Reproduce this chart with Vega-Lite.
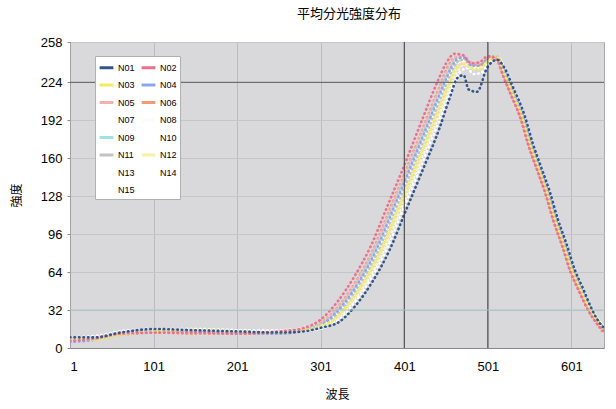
{
"$schema": "https://vega.github.io/schema/vega-lite/v6.json",
"width": 534, "height": 306,
"autosize": {"type": "none"},
"padding": {"left": 70, "top": 42, "right": 12, "bottom": 61},
"background": "white",
"title": {"text": "平均分光強度分布", "font": "Noto Sans CJK JP", "fontSize": 13, "fontWeight": "normal", "color": "#000000", "offset": 15, "anchor": "middle", "dx": 12},
"config": {"view": {"fill": "#d9d9dc", "stroke": "#a8a8a8"}},
"datasets": {
"curves": [
{"s":"N07","x":1,"y":9},{"s":"N07","x":31,"y":10},{"s":"N07","x":61,"y":14},{"s":"N07","x":101,"y":16},{"s":"N07","x":151,"y":16},{"s":"N07","x":201,"y":15},{"s":"N07","x":251,"y":15},{"s":"N07","x":281,"y":17},{"s":"N07","x":309,"y":22},{"s":"N07","x":329,"y":36},{"s":"N07","x":349,"y":56},{"s":"N07","x":369,"y":82},{"s":"N07","x":389,"y":116},{"s":"N07","x":409,"y":150},{"s":"N07","x":429,"y":185},{"s":"N07","x":449,"y":220},{"s":"N07","x":459,"y":236},{"s":"N07","x":467,"y":244},{"s":"N07","x":475,"y":244},{"s":"N07","x":483,"y":239},{"s":"N07","x":493,"y":239},{"s":"N07","x":503,"y":244},{"s":"N07","x":513,"y":244},{"s":"N07","x":522,"y":230},{"s":"N07","x":532,"y":213},{"s":"N07","x":542,"y":196},{"s":"N07","x":552,"y":172},{"s":"N07","x":562,"y":152},{"s":"N07","x":572,"y":132},{"s":"N07","x":582,"y":108},{"s":"N07","x":592,"y":88},{"s":"N07","x":602,"y":66},{"s":"N07","x":612,"y":50},{"s":"N07","x":622,"y":35},{"s":"N07","x":632,"y":23},{"s":"N07","x":640,"y":16},
{"s":"N08","x":1,"y":6},{"s":"N08","x":31,"y":8},{"s":"N08","x":61,"y":12},{"s":"N08","x":101,"y":15},{"s":"N08","x":151,"y":15},{"s":"N08","x":201,"y":14},{"s":"N08","x":251,"y":14},{"s":"N08","x":281,"y":15},{"s":"N08","x":311,"y":22},{"s":"N08","x":331,"y":36},{"s":"N08","x":351,"y":56},{"s":"N08","x":371,"y":82},{"s":"N08","x":391,"y":116},{"s":"N08","x":411,"y":150},{"s":"N08","x":431,"y":185},{"s":"N08","x":451,"y":220},{"s":"N08","x":461,"y":235},{"s":"N08","x":469,"y":242},{"s":"N08","x":477,"y":242},{"s":"N08","x":485,"y":237},{"s":"N08","x":495,"y":238},{"s":"N08","x":505,"y":244},{"s":"N08","x":513,"y":244},{"s":"N08","x":523,"y":230},{"s":"N08","x":533,"y":213},{"s":"N08","x":543,"y":196},{"s":"N08","x":553,"y":172},{"s":"N08","x":563,"y":152},{"s":"N08","x":573,"y":132},{"s":"N08","x":583,"y":108},{"s":"N08","x":593,"y":88},{"s":"N08","x":603,"y":66},{"s":"N08","x":613,"y":50},{"s":"N08","x":623,"y":35},{"s":"N08","x":633,"y":23},{"s":"N08","x":640,"y":17},
{"s":"N10","x":1,"y":8},{"s":"N10","x":31,"y":9},{"s":"N10","x":61,"y":12},{"s":"N10","x":101,"y":15},{"s":"N10","x":151,"y":16},{"s":"N10","x":201,"y":15},{"s":"N10","x":251,"y":14},{"s":"N10","x":281,"y":15},{"s":"N10","x":316,"y":22},{"s":"N10","x":336,"y":36},{"s":"N10","x":356,"y":56},{"s":"N10","x":376,"y":82},{"s":"N10","x":396,"y":116},{"s":"N10","x":416,"y":150},{"s":"N10","x":436,"y":185},{"s":"N10","x":456,"y":220},{"s":"N10","x":465,"y":234},{"s":"N10","x":473,"y":239},{"s":"N10","x":481,"y":236},{"s":"N10","x":491,"y":236},{"s":"N10","x":503,"y":243},{"s":"N10","x":513,"y":245},{"s":"N10","x":524,"y":230},{"s":"N10","x":534,"y":213},{"s":"N10","x":544,"y":196},{"s":"N10","x":554,"y":172},{"s":"N10","x":564,"y":152},{"s":"N10","x":574,"y":132},{"s":"N10","x":584,"y":108},{"s":"N10","x":594,"y":88},{"s":"N10","x":604,"y":66},{"s":"N10","x":614,"y":50},{"s":"N10","x":624,"y":35},{"s":"N10","x":634,"y":23},{"s":"N10","x":640,"y":18},
{"s":"N13","x":1,"y":7},{"s":"N13","x":31,"y":9},{"s":"N13","x":61,"y":12},{"s":"N13","x":101,"y":14},{"s":"N13","x":151,"y":15},{"s":"N13","x":201,"y":14},{"s":"N13","x":251,"y":14},{"s":"N13","x":281,"y":16},{"s":"N13","x":305,"y":22},{"s":"N13","x":325,"y":36},{"s":"N13","x":345,"y":56},{"s":"N13","x":365,"y":82},{"s":"N13","x":385,"y":116},{"s":"N13","x":405,"y":150},{"s":"N13","x":425,"y":185},{"s":"N13","x":445,"y":220},{"s":"N13","x":455,"y":236},{"s":"N13","x":464,"y":246},{"s":"N13","x":472,"y":246},{"s":"N13","x":481,"y":240},{"s":"N13","x":491,"y":240},{"s":"N13","x":501,"y":245},{"s":"N13","x":511,"y":245},{"s":"N13","x":521,"y":230},{"s":"N13","x":531,"y":213},{"s":"N13","x":541,"y":196},{"s":"N13","x":551,"y":172},{"s":"N13","x":561,"y":152},{"s":"N13","x":571,"y":132},{"s":"N13","x":581,"y":108},{"s":"N13","x":591,"y":88},{"s":"N13","x":601,"y":66},{"s":"N13","x":611,"y":50},{"s":"N13","x":621,"y":35},{"s":"N13","x":631,"y":23},{"s":"N13","x":640,"y":15},
{"s":"N14","x":1,"y":8},{"s":"N14","x":31,"y":10},{"s":"N14","x":61,"y":14},{"s":"N14","x":101,"y":16},{"s":"N14","x":151,"y":15},{"s":"N14","x":201,"y":15},{"s":"N14","x":251,"y":14},{"s":"N14","x":281,"y":14},{"s":"N14","x":319,"y":22},{"s":"N14","x":339,"y":36},{"s":"N14","x":359,"y":56},{"s":"N14","x":379,"y":82},{"s":"N14","x":399,"y":116},{"s":"N14","x":419,"y":150},{"s":"N14","x":439,"y":185},{"s":"N14","x":459,"y":220},{"s":"N14","x":468,"y":233},{"s":"N14","x":476,"y":236},{"s":"N14","x":484,"y":231},{"s":"N14","x":493,"y":232},{"s":"N14","x":504,"y":242},{"s":"N14","x":514,"y":244},{"s":"N14","x":524,"y":230},{"s":"N14","x":534,"y":213},{"s":"N14","x":544,"y":196},{"s":"N14","x":554,"y":172},{"s":"N14","x":564,"y":152},{"s":"N14","x":574,"y":132},{"s":"N14","x":584,"y":108},{"s":"N14","x":594,"y":88},{"s":"N14","x":604,"y":66},{"s":"N14","x":614,"y":50},{"s":"N14","x":624,"y":35},{"s":"N14","x":634,"y":23},{"s":"N14","x":640,"y":18},
{"s":"N15","x":1,"y":6},{"s":"N15","x":31,"y":8},{"s":"N15","x":61,"y":11},{"s":"N15","x":101,"y":14},{"s":"N15","x":151,"y":14},{"s":"N15","x":201,"y":13},{"s":"N15","x":251,"y":13},{"s":"N15","x":281,"y":15},{"s":"N15","x":312,"y":22},{"s":"N15","x":332,"y":36},{"s":"N15","x":352,"y":56},{"s":"N15","x":372,"y":82},{"s":"N15","x":392,"y":116},{"s":"N15","x":412,"y":150},{"s":"N15","x":432,"y":185},{"s":"N15","x":452,"y":220},{"s":"N15","x":462,"y":235},{"s":"N15","x":470,"y":241},{"s":"N15","x":478,"y":240},{"s":"N15","x":487,"y":237},{"s":"N15","x":497,"y":239},{"s":"N15","x":506,"y":244},{"s":"N15","x":514,"y":244},{"s":"N15","x":522,"y":230},{"s":"N15","x":532,"y":213},{"s":"N15","x":542,"y":196},{"s":"N15","x":552,"y":172},{"s":"N15","x":562,"y":152},{"s":"N15","x":572,"y":132},{"s":"N15","x":582,"y":108},{"s":"N15","x":592,"y":88},{"s":"N15","x":602,"y":66},{"s":"N15","x":612,"y":50},{"s":"N15","x":622,"y":35},{"s":"N15","x":632,"y":23},{"s":"N15","x":640,"y":16},
{"s":"N11","x":1,"y":6},{"s":"N11","x":31,"y":7},{"s":"N11","x":61,"y":11},{"s":"N11","x":101,"y":13},{"s":"N11","x":151,"y":14},{"s":"N11","x":201,"y":13},{"s":"N11","x":251,"y":12},{"s":"N11","x":281,"y":15},{"s":"N11","x":310,"y":22},{"s":"N11","x":330,"y":36},{"s":"N11","x":350,"y":56},{"s":"N11","x":370,"y":82},{"s":"N11","x":390,"y":116},{"s":"N11","x":410,"y":150},{"s":"N11","x":430,"y":185},{"s":"N11","x":450,"y":220},{"s":"N11","x":460,"y":236},{"s":"N11","x":468,"y":243},{"s":"N11","x":476,"y":243},{"s":"N11","x":484,"y":238},{"s":"N11","x":494,"y":238},{"s":"N11","x":503,"y":244},{"s":"N11","x":512,"y":245},{"s":"N11","x":521,"y":230},{"s":"N11","x":531,"y":213},{"s":"N11","x":541,"y":196},{"s":"N11","x":551,"y":172},{"s":"N11","x":561,"y":152},{"s":"N11","x":571,"y":132},{"s":"N11","x":581,"y":108},{"s":"N11","x":591,"y":88},{"s":"N11","x":601,"y":66},{"s":"N11","x":611,"y":50},{"s":"N11","x":621,"y":35},{"s":"N11","x":631,"y":23},{"s":"N11","x":640,"y":15},
{"s":"N12","x":1,"y":9},{"s":"N12","x":31,"y":8},{"s":"N12","x":61,"y":13},{"s":"N12","x":101,"y":15},{"s":"N12","x":151,"y":15},{"s":"N12","x":201,"y":14},{"s":"N12","x":251,"y":13},{"s":"N12","x":281,"y":14},{"s":"N12","x":315,"y":22},{"s":"N12","x":335,"y":36},{"s":"N12","x":355,"y":56},{"s":"N12","x":375,"y":82},{"s":"N12","x":395,"y":116},{"s":"N12","x":415,"y":150},{"s":"N12","x":435,"y":185},{"s":"N12","x":455,"y":220},{"s":"N12","x":464,"y":234},{"s":"N12","x":472,"y":239},{"s":"N12","x":481,"y":236},{"s":"N12","x":491,"y":236},{"s":"N12","x":502,"y":243},{"s":"N12","x":512,"y":246},{"s":"N12","x":522,"y":230},{"s":"N12","x":532,"y":213},{"s":"N12","x":542,"y":196},{"s":"N12","x":552,"y":172},{"s":"N12","x":562,"y":152},{"s":"N12","x":572,"y":132},{"s":"N12","x":582,"y":108},{"s":"N12","x":592,"y":88},{"s":"N12","x":602,"y":66},{"s":"N12","x":612,"y":50},{"s":"N12","x":622,"y":35},{"s":"N12","x":632,"y":23},{"s":"N12","x":640,"y":16},
{"s":"N09","x":1,"y":7},{"s":"N09","x":31,"y":8},{"s":"N09","x":61,"y":12},{"s":"N09","x":101,"y":14},{"s":"N09","x":151,"y":13},{"s":"N09","x":201,"y":13},{"s":"N09","x":251,"y":13},{"s":"N09","x":281,"y":16},{"s":"N09","x":306,"y":22},{"s":"N09","x":326,"y":36},{"s":"N09","x":346,"y":56},{"s":"N09","x":366,"y":82},{"s":"N09","x":386,"y":116},{"s":"N09","x":406,"y":150},{"s":"N09","x":426,"y":185},{"s":"N09","x":446,"y":220},{"s":"N09","x":456,"y":236},{"s":"N09","x":464,"y":245},{"s":"N09","x":472,"y":246},{"s":"N09","x":481,"y":240},{"s":"N09","x":491,"y":239},{"s":"N09","x":501,"y":245},{"s":"N09","x":511,"y":246},{"s":"N09","x":522,"y":230},{"s":"N09","x":532,"y":213},{"s":"N09","x":542,"y":196},{"s":"N09","x":552,"y":172},{"s":"N09","x":562,"y":152},{"s":"N09","x":572,"y":132},{"s":"N09","x":582,"y":108},{"s":"N09","x":592,"y":88},{"s":"N09","x":602,"y":66},{"s":"N09","x":612,"y":50},{"s":"N09","x":622,"y":35},{"s":"N09","x":632,"y":23},{"s":"N09","x":640,"y":16},
{"s":"N06","x":1,"y":8},{"s":"N06","x":31,"y":8},{"s":"N06","x":61,"y":11},{"s":"N06","x":101,"y":13},{"s":"N06","x":151,"y":12},{"s":"N06","x":201,"y":12},{"s":"N06","x":251,"y":13},{"s":"N06","x":281,"y":16},{"s":"N06","x":303,"y":22},{"s":"N06","x":323,"y":36},{"s":"N06","x":343,"y":56},{"s":"N06","x":363,"y":82},{"s":"N06","x":383,"y":116},{"s":"N06","x":403,"y":150},{"s":"N06","x":423,"y":185},{"s":"N06","x":443,"y":220},{"s":"N06","x":453,"y":237},{"s":"N06","x":462,"y":245},{"s":"N06","x":471,"y":245},{"s":"N06","x":481,"y":239},{"s":"N06","x":491,"y":239},{"s":"N06","x":501,"y":244},{"s":"N06","x":511,"y":243},{"s":"N06","x":519,"y":230},{"s":"N06","x":529,"y":213},{"s":"N06","x":539,"y":196},{"s":"N06","x":549,"y":172},{"s":"N06","x":559,"y":152},{"s":"N06","x":569,"y":132},{"s":"N06","x":579,"y":108},{"s":"N06","x":589,"y":88},{"s":"N06","x":599,"y":66},{"s":"N06","x":609,"y":50},{"s":"N06","x":619,"y":35},{"s":"N06","x":629,"y":23},{"s":"N06","x":640,"y":12},
{"s":"N05","x":1,"y":7},{"s":"N05","x":31,"y":9},{"s":"N05","x":61,"y":13},{"s":"N05","x":101,"y":14},{"s":"N05","x":151,"y":14},{"s":"N05","x":201,"y":13},{"s":"N05","x":251,"y":14},{"s":"N05","x":281,"y":16},{"s":"N05","x":304,"y":22},{"s":"N05","x":324,"y":36},{"s":"N05","x":344,"y":56},{"s":"N05","x":364,"y":82},{"s":"N05","x":384,"y":116},{"s":"N05","x":404,"y":150},{"s":"N05","x":424,"y":185},{"s":"N05","x":444,"y":220},{"s":"N05","x":454,"y":236},{"s":"N05","x":463,"y":246},{"s":"N05","x":471,"y":247},{"s":"N05","x":481,"y":241},{"s":"N05","x":491,"y":240},{"s":"N05","x":501,"y":245},{"s":"N05","x":511,"y":245},{"s":"N05","x":521,"y":230},{"s":"N05","x":531,"y":213},{"s":"N05","x":541,"y":196},{"s":"N05","x":551,"y":172},{"s":"N05","x":561,"y":152},{"s":"N05","x":571,"y":132},{"s":"N05","x":581,"y":108},{"s":"N05","x":591,"y":88},{"s":"N05","x":601,"y":66},{"s":"N05","x":611,"y":50},{"s":"N05","x":621,"y":35},{"s":"N05","x":631,"y":23},{"s":"N05","x":640,"y":15},
{"s":"N04","x":1,"y":5},{"s":"N04","x":31,"y":7},{"s":"N04","x":61,"y":12},{"s":"N04","x":101,"y":15},{"s":"N04","x":151,"y":14},{"s":"N04","x":201,"y":13},{"s":"N04","x":251,"y":12},{"s":"N04","x":281,"y":15},{"s":"N04","x":307,"y":22},{"s":"N04","x":327,"y":36},{"s":"N04","x":347,"y":56},{"s":"N04","x":367,"y":82},{"s":"N04","x":387,"y":116},{"s":"N04","x":407,"y":150},{"s":"N04","x":427,"y":185},{"s":"N04","x":447,"y":220},{"s":"N04","x":457,"y":236},{"s":"N04","x":465,"y":244},{"s":"N04","x":473,"y":245},{"s":"N04","x":481,"y":238},{"s":"N04","x":491,"y":238},{"s":"N04","x":501,"y":244},{"s":"N04","x":511,"y":246},{"s":"N04","x":523,"y":230},{"s":"N04","x":533,"y":213},{"s":"N04","x":543,"y":196},{"s":"N04","x":553,"y":172},{"s":"N04","x":563,"y":152},{"s":"N04","x":573,"y":132},{"s":"N04","x":583,"y":108},{"s":"N04","x":593,"y":88},{"s":"N04","x":603,"y":66},{"s":"N04","x":613,"y":50},{"s":"N04","x":623,"y":35},{"s":"N04","x":633,"y":23},{"s":"N04","x":640,"y":17},
{"s":"N03","x":1,"y":8},{"s":"N03","x":31,"y":7},{"s":"N03","x":61,"y":11},{"s":"N03","x":101,"y":14},{"s":"N03","x":151,"y":15},{"s":"N03","x":201,"y":14},{"s":"N03","x":251,"y":13},{"s":"N03","x":281,"y":15},{"s":"N03","x":301,"y":19},{"s":"N03","x":313,"y":22},{"s":"N03","x":333,"y":36},{"s":"N03","x":353,"y":56},{"s":"N03","x":373,"y":82},{"s":"N03","x":393,"y":116},{"s":"N03","x":413,"y":150},{"s":"N03","x":433,"y":185},{"s":"N03","x":453,"y":220},{"s":"N03","x":463,"y":236},{"s":"N03","x":471,"y":240},{"s":"N03","x":481,"y":236},{"s":"N03","x":491,"y":235},{"s":"N03","x":501,"y":242},{"s":"N03","x":511,"y":246},{"s":"N03","x":521,"y":231},{"s":"N03","x":531,"y":214},{"s":"N03","x":541,"y":197},{"s":"N03","x":551,"y":173},{"s":"N03","x":561,"y":153},{"s":"N03","x":571,"y":133},{"s":"N03","x":581,"y":109},{"s":"N03","x":591,"y":89},{"s":"N03","x":601,"y":67},{"s":"N03","x":611,"y":51},{"s":"N03","x":621,"y":36},{"s":"N03","x":631,"y":24},{"s":"N03","x":640,"y":16},
{"s":"N02","x":1,"y":6},{"s":"N02","x":31,"y":8},{"s":"N02","x":61,"y":12},{"s":"N02","x":101,"y":13},{"s":"N02","x":151,"y":13},{"s":"N02","x":201,"y":12},{"s":"N02","x":251,"y":14},{"s":"N02","x":281,"y":17},{"s":"N02","x":301,"y":24},{"s":"N02","x":321,"y":39},{"s":"N02","x":341,"y":60},{"s":"N02","x":361,"y":86},{"s":"N02","x":381,"y":120},{"s":"N02","x":401,"y":154},{"s":"N02","x":421,"y":190},{"s":"N02","x":441,"y":225},{"s":"N02","x":451,"y":240},{"s":"N02","x":461,"y":248},{"s":"N02","x":471,"y":247},{"s":"N02","x":481,"y":240},{"s":"N02","x":491,"y":241},{"s":"N02","x":501,"y":246},{"s":"N02","x":511,"y":244},{"s":"N02","x":520,"y":228},{"s":"N02","x":530,"y":211},{"s":"N02","x":540,"y":194},{"s":"N02","x":550,"y":170},{"s":"N02","x":560,"y":150},{"s":"N02","x":570,"y":130},{"s":"N02","x":580,"y":106},{"s":"N02","x":590,"y":86},{"s":"N02","x":600,"y":64},{"s":"N02","x":610,"y":48},{"s":"N02","x":620,"y":33},{"s":"N02","x":630,"y":22},{"s":"N02","x":640,"y":14},
{"s":"N01","x":1,"y":9},{"s":"N01","x":31,"y":9},{"s":"N01","x":61,"y":13},{"s":"N01","x":101,"y":16},{"s":"N01","x":151,"y":15},{"s":"N01","x":201,"y":14},{"s":"N01","x":251,"y":13},{"s":"N01","x":281,"y":14},{"s":"N01","x":301,"y":17},{"s":"N01","x":323,"y":22},{"s":"N01","x":343,"y":36},{"s":"N01","x":363,"y":56},{"s":"N01","x":383,"y":82},{"s":"N01","x":403,"y":116},{"s":"N01","x":423,"y":150},{"s":"N01","x":443,"y":185},{"s":"N01","x":455,"y":210},{"s":"N01","x":465,"y":228},{"s":"N01","x":472,"y":230},{"s":"N01","x":478,"y":218},{"s":"N01","x":488,"y":216},{"s":"N01","x":500,"y":236},{"s":"N01","x":512,"y":243},{"s":"N01","x":521,"y":236},{"s":"N01","x":531,"y":220},{"s":"N01","x":545,"y":196},{"s":"N01","x":555,"y":172},{"s":"N01","x":565,"y":152},{"s":"N01","x":575,"y":132},{"s":"N01","x":585,"y":108},{"s":"N01","x":595,"y":88},{"s":"N01","x":605,"y":66},{"s":"N01","x":615,"y":50},{"s":"N01","x":624,"y":35},{"s":"N01","x":633,"y":23},{"s":"N01","x":640,"y":17}
],
"vlines": [{"x": 401}, {"x": 501}],
"hdark": [{"y": 224}],
"hteal": [{"y": 32}]
},
"layer": [
{
"data": {"name": "curves"},
"mark": {"type": "line", "strokeWidth": 2.6, "strokeDash": [0.5, 4], "strokeCap": "round", "interpolate": "monotone", "clip": true},
"encoding": {
"x": {"field": "x", "type": "quantitative", "scale": {"domain": [1, 640], "nice": false, "zero": false},
"axis": {"title": "波長", "values": [1, 101, 201, 301, 401, 501, 601], "labelOverlap": false, "grid": true, "gridColor": "#bcbcbc", "tickSize": 0, "labelPadding": 12, "labelFont": "Liberation Sans", "labelFontSize": 13, "labelColor": "#000000", "titleFont": "Noto Sans CJK JP", "titleFontSize": 12, "titleFontWeight": "normal", "titleColor": "#000000", "titlePadding": 16, "domainColor": "#8a8a8a"}},
"y": {"field": "y", "type": "quantitative", "scale": {"domain": [0, 258], "nice": false},
"axis": {"title": "強度", "values": [0, 32, 64, 96, 128, 160, 192, 224, 258], "labelOverlap": false, "grid": true, "gridColor": "#c6c6c6", "tickSize": 3, "tickColor": "#888888", "labelPadding": 5, "labelFont": "Liberation Sans", "labelFontSize": 13, "labelColor": "#000000", "titleFont": "Noto Sans CJK JP", "titleFontSize": 12, "titleFontWeight": "normal", "titleColor": "#000000", "titlePadding": 17, "domainColor": "#a0a0a0"}},
"color": {"field": "s", "type": "nominal",
"scale": {"domain": ["N01","N02","N03","N04","N05","N06","N07","N08","N09","N10","N11","N12","N13","N14","N15"],
"range": ["#34548c","#ee6f8c","#f3ea60","#8aa6ee","#efb2b2","#f29a76","#ffffff","#fbfbfb","#9fe3e3","#ffffff","#c2c2c2","#f6f3a8","#ffffff","#ffffff","#ffffff"]},
"legend": {"title": null, "orient": "none", "legendX": 25, "legendY": 14, "direction": "horizontal", "columns": 2, "fillColor": "#ffffff", "strokeColor": "#b0b0b0", "padding": 3, "symbolType": "stroke", "symbolStrokeWidth": 3, "symbolSize": 190, "symbolDash": [20, 0], "labelFont": "Liberation Sans", "labelFontSize": 9, "labelColor": "#000000", "labelOffset": 3, "rowPadding": 2.5, "columnPadding": 0}}
}
},
{
"data": {"name": "vlines"},
"mark": {"type": "rule", "color": "#3a3a3a", "strokeWidth": 1},
"encoding": {"x": {"field": "x", "type": "quantitative", "scale": {"domain": [1, 640], "nice": false, "zero": false},
"axis": {"title": "波長", "values": [1, 101, 201, 301, 401, 501, 601], "labelOverlap": false, "grid": true, "gridColor": "#bcbcbc", "tickSize": 0, "labelPadding": 12, "labelFont": "Liberation Sans", "labelFontSize": 13, "labelColor": "#000000", "titleFont": "Noto Sans CJK JP", "titleFontSize": 12, "titleFontWeight": "normal", "titleColor": "#000000", "titlePadding": 16, "domainColor": "#8a8a8a"}}}
},
{
"data": {"name": "hdark"},
"mark": {"type": "rule", "color": "#5a5a5a", "strokeWidth": 1},
"encoding": {"y": {"field": "y", "type": "quantitative", "scale": {"domain": [0, 258], "nice": false},
"axis": {"title": "強度", "values": [0, 32, 64, 96, 128, 160, 192, 224, 258], "labelOverlap": false, "grid": true, "gridColor": "#c6c6c6", "tickSize": 3, "tickColor": "#888888", "labelPadding": 5, "labelFont": "Liberation Sans", "labelFontSize": 13, "labelColor": "#000000", "titleFont": "Noto Sans CJK JP", "titleFontSize": 12, "titleFontWeight": "normal", "titleColor": "#000000", "titlePadding": 17, "domainColor": "#a0a0a0"}}}
},
{
"data": {"name": "hteal"},
"mark": {"type": "rule", "color": "#a6c6c6", "strokeWidth": 1},
"encoding": {"y": {"field": "y", "type": "quantitative", "scale": {"domain": [0, 258], "nice": false},
"axis": {"title": "強度", "values": [0, 32, 64, 96, 128, 160, 192, 224, 258], "labelOverlap": false, "grid": true, "gridColor": "#c6c6c6", "tickSize": 3, "tickColor": "#888888", "labelPadding": 5, "labelFont": "Liberation Sans", "labelFontSize": 13, "labelColor": "#000000", "titleFont": "Noto Sans CJK JP", "titleFontSize": 12, "titleFontWeight": "normal", "titleColor": "#000000", "titlePadding": 17, "domainColor": "#a0a0a0"}}}
}
]
}
